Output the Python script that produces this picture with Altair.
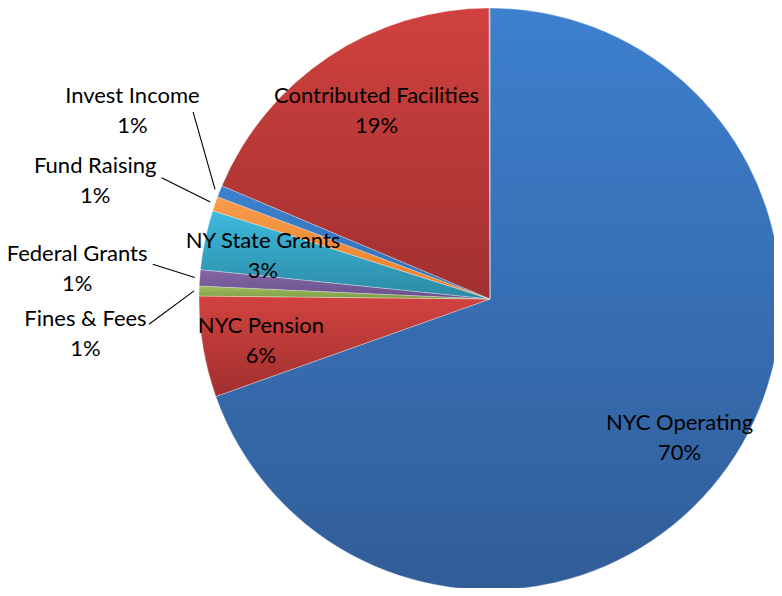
import altair as alt
import pandas as pd

# ---- data (clockwise from 12 o'clock) ----
categories = ["NYC Operating", "NYC Pension", "Fines & Fees", "Federal Grants",
              "NY State Grants", "Fund Raising", "Invest Income",
              "Contributed Facilities", "Other"]
values = [69.6, 5.6, 0.55, 0.9, 3.3, 0.8, 0.65, 18.6, 0.05]
label_names = ["NYC Operating", "NYC Pension", "Fines & Fees", "Federal Grants",
               "NY State Grants", "Fund Raising", "Invest Income",
               "Contributed Facilities", ""]

# ---- styles ----
top_colors = ["#3d80ce", "#d2423f", "#9dbe5b", "#8467a6", "#3dbade", "#f99c4c",
              "#3d80ce", "#d0413e", "#9dbe5b"]
bottom_colors = ["#315d98", "#a0302f", "#7f9c47", "#68508a", "#2b8aa4", "#e57f2c",
                 "#3470b4", "#a13130", "#7f9c47"]

# ---- layout (label placement relative to slice mid-angle) ----
placement = ["inside", "inside", "outside", "outside", "inside", "outside",
             "outside", "inside", "none"]
label_nudge = [1.0, -1.0, -6.5, 0.0, -1.0, -2.5, 6.0, 2.6, 0.0]     # degrees
label_radius = [235, 233, 406, 414, 231, 412, 404, 220, 0]          # px
leader_nudge = [0, 0, -5.8, 1.7, 0, 1.15, 10.5, 0, 0]               # degrees
leader_radius = [0, 0, 342, 339, 0, 350, 351, 0, 0]                 # px

CX, CY, R = 482, 291, 291

df = pd.DataFrame({
    "category": categories,
    "value": values,
    "name": label_names,
    "order": list(range(len(categories))),
    "placement": placement,
    "lnudge": label_nudge,
    "lr": label_radius,
    "knudge": leader_nudge,
    "kr": leader_radius,
})

base = (
    alt.Chart(df)
    .transform_window(cum="sum(value)", sort=[alt.SortField("order")])
    .transform_joinaggregate(total="sum(value)")
    .transform_calculate(
        start="(datum.cum - datum.value) / datum.total",
        end="datum.cum / datum.total",
        mid="(datum.cum - datum.value / 2) / datum.total * 2 * PI",
    )
)

theta_scale = alt.Scale(domain=[0, 1], range=[0, 6.283185307179586])

layers = []
for i, cat in enumerate(categories):
    grad = alt.LinearGradient(
        gradient="linear", x1=0, y1=0, x2=0, y2=1,
        stops=[alt.GradientStop(color=top_colors[i], offset=0),
               alt.GradientStop(color=bottom_colors[i], offset=1)],
    )
    layers.append(
        base.transform_filter(alt.datum.category == cat)
        .mark_arc(fill=grad, x=CX, y=CY, outerRadius=R, stroke="#ffffff",
                  strokeWidth=0.6, strokeOpacity=0.5)
        .encode(theta=alt.Theta("start:Q", scale=theta_scale),
                theta2="end:Q")
    )

text_layer = (
    base.transform_filter("datum.placement != 'none'")
    .transform_calculate(
        la="datum.mid + datum.lnudge * PI / 180",
        tx=f"{CX} + datum.lr * sin(datum.la)",
        ty=f"{CY} - datum.lr * cos(datum.la)",
        label="datum.name + '\\n' + format(round(datum.value), 'd') + '%'",
    )
    .mark_text(font="Lato", fontSize=22, lineHeight=30, lineBreak="\n",
               align="center", baseline="middle", dy=-15, color="#000000")
    .encode(x=alt.X("tx:Q", scale=None), y=alt.Y("ty:Q", scale=None),
            text="label:N")
)

leader_layer = (
    base.transform_filter("datum.placement == 'outside'")
    .transform_calculate(
        ka="datum.mid + datum.knudge * PI / 180",
        x1=f"{CX} + {R + 5} * sin(datum.mid)",
        y1=f"{CY} - {R + 5} * cos(datum.mid)",
        x2=f"{CX} + datum.kr * sin(datum.ka)",
        y2=f"{CY} - datum.kr * cos(datum.ka)",
    )
    .mark_rule(color="#000000", strokeWidth=1.1)
    .encode(x=alt.X("x1:Q", scale=None), y=alt.Y("y1:Q", scale=None),
            x2="x2:Q", y2="y2:Q")
)

chart = (
    alt.layer(*layers, leader_layer, text_layer)
    .properties(width=766, height=580, padding=0,
                autosize=alt.AutoSizeParams(type="none"))
    .configure_view(stroke=None)
)

chart.save("out.html", embed_options={"renderer": "svg", "actions": False})
